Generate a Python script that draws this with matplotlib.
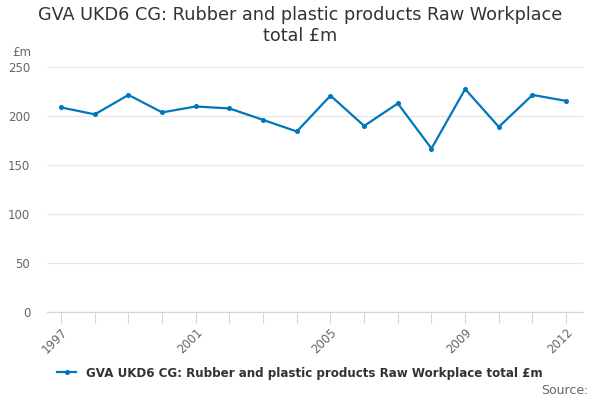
import matplotlib
matplotlib.use("Agg")
import matplotlib.pyplot as plt

years = list(range(1997, 2013))
gva = [208.7, 201.7, 221.5, 203.7, 209.7, 207.7, 196.0, 184.2,
       220.8, 189.9, 212.8, 166.8, 227.5, 188.9, 221.5, 215.4]
label_years = [1997, 2001, 2005, 2009, 2012]
y_ticks = [0, 50, 100, 150, 200, 250]

title = "GVA UKD6 CG: Rubber and plastic products Raw Workplace\ntotal £m"
series_name = "GVA UKD6 CG: Rubber and plastic products Raw Workplace total £m"

plt.rcParams['font.family'] = ['DejaVu Sans']

fig = plt.figure(figsize=(6, 4), dpi=100)
ax = fig.add_axes([47 / 600, 1 - 312 / 400, (583 - 47) / 600, (312 - 67) / 400])

line_color = '#0077bc'
ax.plot(years, gva, color=line_color, linewidth=1.6, marker='o', markersize=2.6,
        label=series_name)

ax.set_xlim(1996.58, 2012.5)
ax.set_ylim(0, 250)
ax.set_yticks(y_ticks)
ax.grid(axis='y', color='#e6e6e6', linewidth=0.9)
ax.set_axisbelow(True)

ax.set_xticks(years)
ax.set_xticklabels([str(y) if y in label_years else '' for y in years],
                   rotation=45, ha='right', rotation_mode='anchor')
ax.tick_params(axis='x', length=8, color='#ccd6eb', labelcolor='#666666',
               labelsize=8.5, pad=2)
ax.tick_params(axis='y', length=0, labelcolor='#666666', labelsize=8.5, pad=12)

for side in ['top', 'right', 'left']:
    ax.spines[side].set_visible(False)
ax.spines['bottom'].set_color('#ccd6eb')

fig.text(0.5, 0.985, title, ha='center', va='top', fontsize=12.7, color='#333333')
fig.text(12 / 600, 1 - 52 / 400, '£m', fontsize=8.5, color='#666666', va='center')

fig.legend(loc='center', bbox_to_anchor=(0.5, 1 - 373 / 400), frameon=False,
           handlelength=1.6, prop={'weight': 'bold', 'size': 8.6})
for t in fig.legends[0].get_texts():
    t.set_color('#333333')

fig.text(588 / 600, 1 - 390 / 400, 'Source:', ha='right', va='center',
         fontsize=9, color='#666666')

fig.savefig('out.png', dpi=100)
